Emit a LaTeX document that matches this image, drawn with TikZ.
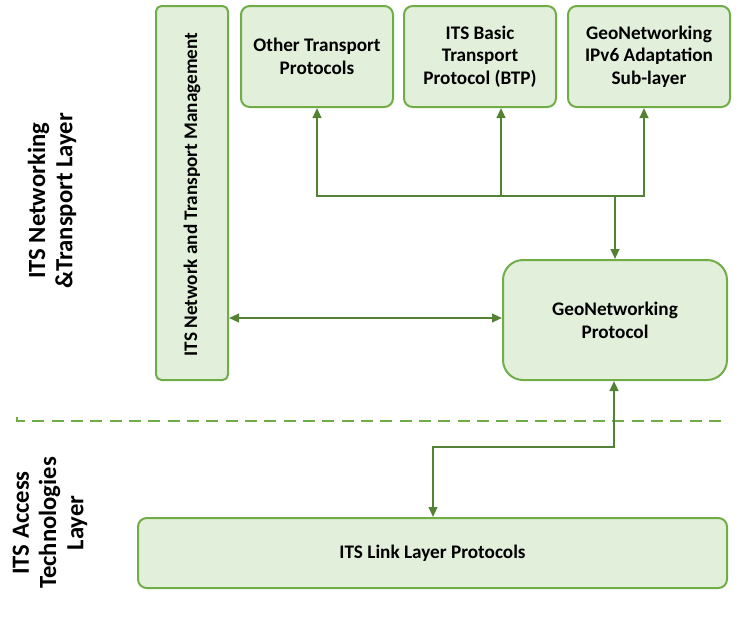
\documentclass[tikz,border=0pt]{standalone}
\usepackage{fontspec}
\setmainfont{Carlito}
\usetikzlibrary{arrows.meta}
\definecolor{boxfill}{HTML}{E2EFDA}
\definecolor{boxline}{HTML}{70AD47}
\definecolor{arrline}{HTML}{548235}
\tikzset{
  box/.style={draw=boxline, fill=boxfill, line width=1.5pt, align=center, inner sep=0pt,
    font=\fontsize{14.4}{17}\selectfont\bfseries},
  conn/.style={draw=arrline, line width=1.5pt},
  tip/.style={-{Triangle[length=7.5pt,width=6.5pt]}},
  tips/.style={{Triangle[length=7.5pt,width=6.5pt]}-{Triangle[length=7.5pt,width=6.5pt]}},
  layerlabel/.style={rotate=90, align=center, font=\fontsize{18.5}{20.5}\selectfont\bfseries},
  sep/.style={draw=boxline, line width=1.5pt, dash pattern=on 9pt off 5.5pt}
}
\begin{document}
\begin{tikzpicture}[x=0.75pt,y=-0.75pt]
\useasboundingbox (0,0) rectangle (739,622);
% boxes
\node[box, rounded corners=4pt, minimum width=54pt, minimum height=280.5pt] (mgmt) at (192,193) {};
\node[rotate=90, font=\fontsize{14.4}{17}\selectfont\bfseries] (mgmtlbl) at (192,194.5) {ITS Network and Transport Management};
\node[box, rounded corners=6.5pt, minimum width=114pt, minimum height=75.75pt] (other) at (317,56.5) {Other Transport\\Protocols};
\node[box, rounded corners=6.5pt, minimum width=114pt, minimum height=75.75pt] (btp) at (480,56.5) {ITS Basic\\Transport\\Protocol (BTP)};
\node[box, rounded corners=6.5pt, minimum width=121.5pt, minimum height=75.75pt] (ipv6) at (649,56.5) {GeoNetworking\\IPv6 Adaptation\\Sub-layer};
\node[box, rounded corners=15pt, minimum width=168pt, minimum height=90pt] (geo) at (615,320) {GeoNetworking\\Protocol};
\node[box, rounded corners=6.5pt, minimum width=441.75pt, minimum height=52.5pt] (link) at (432.5,553) {ITS Link Layer Protocols};
% layer labels
\node[layerlabel] (netlayer) at (52,201) {ITS Networking\\\&Transport Layer};
\node[layerlabel] (acclayer) at (50,523) {ITS Access\\Technologies\\Layer};
% separator
\coordinate (sepL) at (17,417);
\coordinate (sepR) at (721,417);
\draw[sep] (sepL) -- (17,421) -- (721,421) -- (sepR);
% connectors top
\coordinate (jOther) at (317,196);
\coordinate (jBtp) at (501,196);
\coordinate (jIpv6) at (644,196);
\coordinate (jGeo) at (615,196);
\draw[conn, tips] (other.south -| jOther) -- (jOther) -- (jIpv6) -- (ipv6.south -| jIpv6);
\draw[conn, tip] (jBtp) -- (btp.south -| jBtp);
\draw[conn, tip] (jGeo) -- (geo.north -| jGeo);
% mgmt <-> geo
\draw[conn, tips] (mgmt.east |- 0,318) -- (geo.west |- 0,318);
% geo <-> link
\coordinate (bendA) at (614,447);
\coordinate (bendB) at (433,447);
\draw[conn, tips] (geo.south -| bendA) -- (bendA) -- (bendB) -- (link.north -| bendB);
\end{tikzpicture}
\end{document}
